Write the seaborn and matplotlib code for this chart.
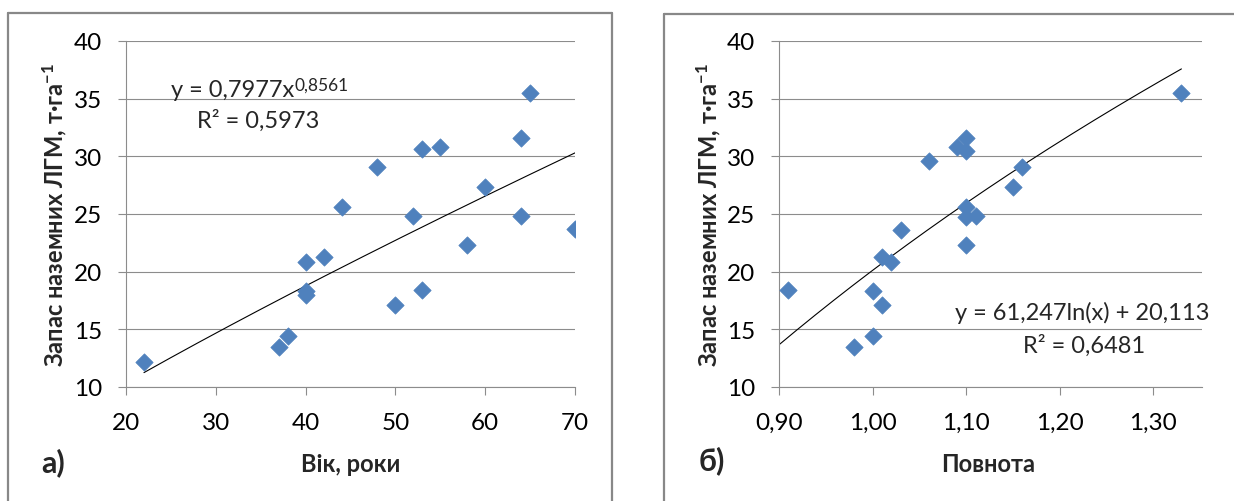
import numpy as np
import pandas as pd
import matplotlib
matplotlib.use("Agg")
import matplotlib.pyplot as plt
import seaborn as sns
from matplotlib.lines import Line2D

# ---------------- data ----------------
age = [22, 37, 38, 40, 40, 40, 42, 44, 48, 50, 52, 53, 53, 55, 58, 60, 64, 64, 65, 70]
stock_a = [12.2, 13.5, 14.4, 20.8, 18.3, 18.0, 21.3, 25.6, 29.1, 17.1,
           24.8, 30.6, 18.4, 30.8, 22.3, 27.3, 31.6, 24.8, 35.5, 23.7]

density = [0.91, 0.98, 1.00, 1.00, 1.01, 1.01, 1.02, 1.03, 1.06, 1.09,
           1.10, 1.10, 1.10, 1.10, 1.11, 1.10, 1.15, 1.16, 1.33]
stock_b = [18.4, 13.5, 14.4, 18.3, 17.1, 21.3, 20.8, 23.6, 29.6, 30.8,
           31.6, 30.5, 25.6, 24.7, 24.8, 22.3, 27.3, 29.1, 35.5]

pow_coef, pow_exp = 0.7977, 0.8561      # y = a * x^b
ln_coef, ln_int = 61.247, 20.113        # y = a*ln(x) + b

y_ticks = [10, 15, 20, 25, 30, 35, 40]
x_ticks_a = [20, 30, 40, 50, 60, 70]
x_ticks_b = [0.90, 1.00, 1.10, 1.20, 1.30]
x_labels_b = ["0,90", "1,00", "1,10", "1,20", "1,30"]

eq_a = "y = 0,7977x"
eq_a_sup = "0,8561"
r2_a = "R² = 0,5973"
eq_b = "y = 61,247ln(x) + 20,113"
r2_b = "R² = 0,6481"
ylabel = r"Запас наземних ЛГМ, т·га$^{\mathbf{-1}}$"
xlabel_a = "Вік, роки"
xlabel_b = "Повнота"
tag_a = "а)"
tag_b = "б)"

# ---------------- style ----------------
sns.set_style("white")
plt.rcParams["font.family"] = ["Lato", "DejaVu Sans"]
plt.rcParams["mathtext.fontset"] = "custom"
plt.rcParams["mathtext.rm"] = "Lato"
plt.rcParams["mathtext.bf"] = "Lato:bold"
plt.rcParams["mathtext.it"] = "Lato:italic"

W, H = 1234, 502
fig = plt.figure(figsize=(W / 100, H / 100), dpi=100)
fig.patch.set_facecolor("white")

GRID = "#8c8c8c"
BLUE = "#4F81BD"
TICK_FS = 17.5
LAB_FS = 17
EQ_FS = 17
MS = 78


def px_axes(x0, x1, y0, y1):
    return fig.add_axes([x0 / W, 1 - y1 / H, (x1 - x0) / W, (y1 - y0) / H])


def style_axes(ax):
    for s in ["top", "right"]:
        ax.spines[s].set_visible(False)
    for s in ["left", "bottom"]:
        ax.spines[s].set_color(GRID)
        ax.spines[s].set_linewidth(0.8)
    ax.set_ylim(10, 40)
    ax.set_yticks(y_ticks)
    ax.set_yticklabels([str(v) for v in y_ticks])
    ax.yaxis.grid(True, color=GRID, lw=0.8)
    ax.xaxis.grid(False)
    ax.set_axisbelow(True)
    ax.tick_params(axis="both", direction="out", length=6, width=0.8,
                   color=GRID, labelsize=TICK_FS, labelcolor="black")
    ax.tick_params(axis="y", pad=11, left=True)
    ax.tick_params(axis="x", pad=12, bottom=True)


# ---------------- panel a ----------------
axa = px_axes(126, 575, 42, 388)
style_axes(axa)
dfa = pd.DataFrame({"x": age, "y": stock_a})
xa = np.linspace(min(age), max(age), 200)
axa.plot(xa, pow_coef * xa ** pow_exp, color="black", lw=0.8, zorder=2)
sns.scatterplot(data=dfa, x="x", y="y", ax=axa, marker="D", s=MS,
                color=BLUE, edgecolor=BLUE, linewidth=0.5, zorder=3)
axa.set_xlim(20, 70)
axa.set_xticks(x_ticks_a)
axa.set_xticklabels([str(v) for v in x_ticks_a])
axa.set_xlabel(xlabel_a, fontsize=LAB_FS, fontweight="bold")
axa.set_ylabel(ylabel, fontsize=LAB_FS, fontweight="bold")
axa.yaxis.label.set_va("center")
axa.yaxis.set_label_coords((55 - 126) / 449, 0.5)
axa.xaxis.set_label_coords(0.5, -(465 - 388) / 346)
axa.xaxis.label.set_va("center")

t1 = axa.text(25.0, 35.8, eq_a, fontsize=EQ_FS, ha="left", va="center")
axa.annotate(eq_a_sup, xy=(1, 1.1), xycoords=t1, ha="left", va="top",
             fontsize=12.5)
axa.text(34.7, 33.2, r2_a, fontsize=EQ_FS, ha="center", va="center")

# ---------------- panel b ----------------
axb = px_axes(779, 1202, 42, 388)
style_axes(axb)
dfb = pd.DataFrame({"x": density, "y": stock_b})
xb = np.linspace(0.90, max(density), 200)
axb.plot(xb, ln_coef * np.log(xb) + ln_int, color="black", lw=0.8, zorder=2)
sns.scatterplot(data=dfb, x="x", y="y", ax=axb, marker="D", s=MS,
                color=BLUE, edgecolor=BLUE, linewidth=0.5, zorder=3)
axb.set_xlim(0.90, 1.352)
axb.set_xticks(x_ticks_b)
axb.set_xticklabels(x_labels_b)
axb.set_xlabel(xlabel_b, fontsize=LAB_FS, fontweight="bold")
axb.set_ylabel(ylabel, fontsize=LAB_FS, fontweight="bold")
axb.yaxis.label.set_va("center")
axb.yaxis.set_label_coords((709 - 779) / 423, 0.5)
axb.xaxis.set_label_coords((988 - 779) / 423, -(465 - 388) / 346)
axb.xaxis.label.set_va("center")

axb.text(1.224, 16.5, eq_b, fontsize=EQ_FS, ha="center", va="center")
axb.text(1.226, 13.7, r2_b, fontsize=EQ_FS, ha="center", va="center")

# ---------------- panel tags ----------------
fig.text(53 / W, 1 - 463 / H, tag_a, fontsize=22, fontweight="bold",
         ha="center", va="center")
fig.text(712 / W, 1 - 461 / H, tag_b, fontsize=22, fontweight="bold",
         ha="center", va="center")

# ---------------- chart-area borders ----------------
BORDER = "#888888"


def fline(xs, ys):
    fig.add_artist(Line2D([x / W for x in xs], [1 - y / H for y in ys],
                          transform=fig.transFigure, color=BORDER, lw=1.6))


fline([8, 612], [14, 14])
fline([8, 8], [14, 502])
fline([612, 612], [14, 502])
fline([664, 1234], [15, 15])
fline([664, 664], [15, 502])

fig.savefig("out.png", dpi=100, facecolor="white")
